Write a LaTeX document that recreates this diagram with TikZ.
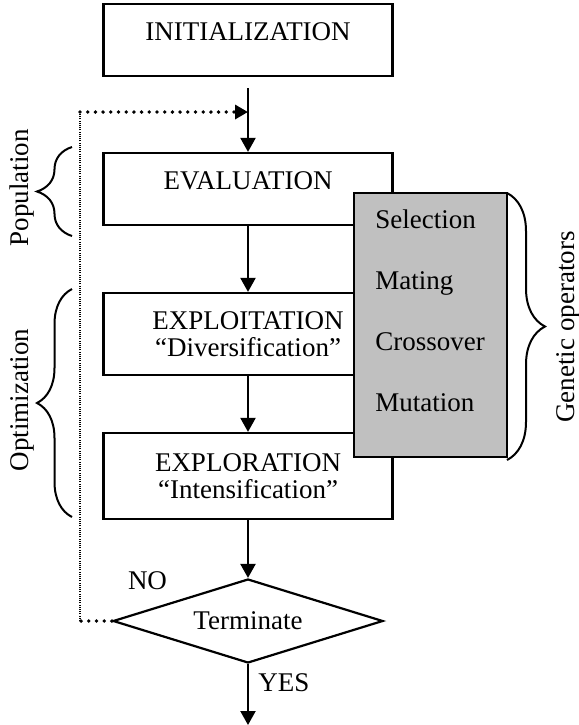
\documentclass[tikz,border=0pt]{standalone}
\usepackage{fontspec}
\setmainfont{Liberation Serif}
\usetikzlibrary{arrows.meta,shapes.geometric,decorations.pathreplacing}
\newcommand{\gafont}{\fontsize{13.5}{13.5}\selectfont}
\definecolor{gaopfill}{HTML}{C0C0C0}
\tikzset{
  flowbox/.style={draw,line width=1.1pt,fill=white,minimum width=144.5pt,
    inner sep=0pt,align=center,font=\gafont},
  opbox/.style={draw,line width=1.1pt,fill=gaopfill,minimum width=76.5pt,
    minimum height=132pt,inner sep=0pt},
  optext/.style={anchor=base west,inner sep=0pt,font=\gafont},
  decision/.style={draw,diamond,line width=1.1pt,aspect=3.2,inner sep=0pt,
    minimum width=135pt,minimum height=42pt,font=\gafont},
  flowlabel/.style={inner sep=0pt,font=\gafont},
  sidelabel/.style={inner sep=0pt,rotate=90,font=\gafont},
  flowarrow/.style={draw,line width=1.1pt,-{Triangle[length=7pt,width=7.5pt]}},
  fbdots/.style={draw,line width=1.9pt,line cap=round,dash pattern=on 0pt off 3.85pt},
  fbthin/.style={draw,line width=0.6pt,dash pattern=on 0.5pt off 0.6pt},
  gabrace/.style={draw,line width=1pt,decorate},
}
\begin{document}
\begin{tikzpicture}[x=0.5pt,y=-0.5pt]
  \path[use as bounding box] (0,0) rectangle (579,725);
  % main flow
  \node[flowbox,minimum height=36pt,text depth=8pt] (init) at (248,40) {INITIALIZATION};
  \node[flowbox,minimum height=36pt,text depth=8pt] (eval) at (248,189) {EVALUATION};
  \node[flowbox,minimum height=41pt] (exploit) at (248,334) {EXPLOITATION\\“Diversification”};
  \node[flowbox,minimum height=43pt] (explore) at (248,476) {EXPLORATION\\“Intensification”};
  \node[decision] (term) at (248,621) {Terminate};
  \node[flowlabel] (no) at (147.5,581) {NO};
  \node[flowlabel] (yes) at (284,683) {YES};
  % genetic operators
  \node[opbox] (ops) at (430.5,325) {};
  \foreach \i/\w in {0/Selection,1/Mating,2/Crossover,3/Mutation}
    {\node[optext] (op\i) at (375,228+61*\i) {\w};}
  \coordinate (join) at (248,112);
  \coordinate (loopup) at (80,112);
  \coordinate (loopdown) at (80,621);
  \coordinate (out) at (248,725);
  \draw[flowarrow,shorten <=5.5pt] (init.south) -- (eval.north);
  \draw[flowarrow] (eval) -- (exploit);
  \draw[flowarrow] (exploit) -- (explore);
  \draw[flowarrow] (explore) -- (term);
  \draw[flowarrow] (term) -- (out);
  % loop back
  \draw[fbdots] (term.west) -- (loopdown);
  \draw[fbthin] (loopdown) -- (loopup);
  \draw[fbdots,-{Triangle[length=6.5pt,width=7pt]}] (loopup) -- (join);
  % braces
  \draw[gabrace,decoration={brace,amplitude=17.5pt}] (72,236) -- (72,147);
  \draw[gabrace,decoration={brace,amplitude=17.5pt}] (72,517) -- (72,289);
  \draw[gabrace,decoration={brace,amplitude=19pt}] (507,193) -- (507,460);
  \node[sidelabel] (pop) at (22,188) {Population};
  \node[sidelabel] (optim) at (22,400) {Optimization};
  \node[sidelabel] (genop) at (568,327) {Genetic operators};
\end{tikzpicture}
\end{document}
